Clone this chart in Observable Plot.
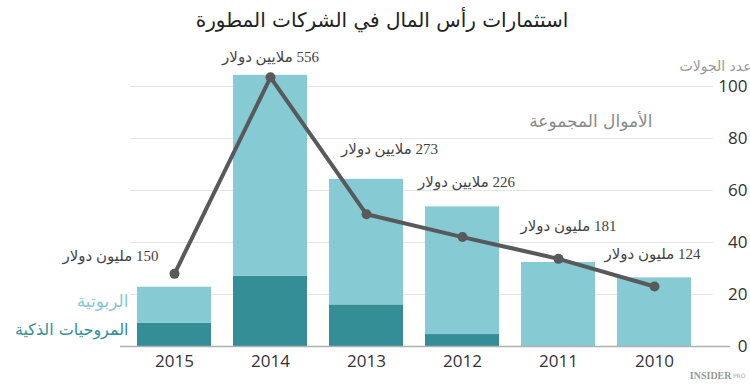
<!DOCTYPE html>
<html>
<head>
<meta charset="utf-8">
<script src="https://cdn.jsdelivr.net/npm/d3@7"></script>
<script src="https://cdn.jsdelivr.net/npm/@observablehq/plot@0.6"></script>
<style>
  body { margin: 0; background: #fff; }
  #title { height: 40px; line-height: 40px; text-align: center; font-family: "DejaVu Sans", sans-serif; font-size: 20px; color: #222; padding-left: 14px; direction: rtl; }
  #chart svg { display: block; }
</style>
</head>
<body>
<div id="title">استثمارات رأس المال في الشركات المطورة</div>
<div id="chart"></div>
<script>
const years = ["2015", "2014", "2013", "2012", "2011", "2010"];
const drones = [9, 27, 16, 4.6, 0, 0];
const robotics = [13.8, 77.3, 48.3, 49.1, 32.3, 26.4];
const funds = [150, 556, 273, 226, 181, 124];
const fundLabels = ["150 مليون دولار", "556 ملايين دولار", "273 ملايين دولار", "226 ملايين دولار", "181 مليون دولار", "124 مليون دولار"];
const yTicks = [0, 20, 40, 60, 80, 100];

const data = years.map((y, i) => ({year: y, drones: drones[i], robotics: robotics[i], funds: funds[i], label: fundLabels[i]}));
const fundScale = 5.37; // funds (millions $) drawn on the rounds axis

const lightTeal = "#86cad3";
const darkTeal = "#338f95";
const lineColor = "#58595b";

// label offsets (px) relative to each point
const labelOffsets = [[-64, -18], [0, -20], [23, -65], [4, -55], [10, -33], [-2, -32]];

const labelMarks = data.map((d, i) => Plot.text([d], {
  x: "year", y: v => v.funds / fundScale,
  text: v => "\u202B" + v.label + "\u202C",
  dx: labelOffsets[i][0], dy: labelOffsets[i][1],
  fontSize: 15, fill: "#444", fontFamily: "Liberation Serif, DejaVu Sans", textAnchor: "middle"
}));

const chart = Plot.plot({
  width: 750, height: 346,
  marginLeft: 130, marginRight: 37, marginTop: 46, marginBottom: 40,
  style: {fontFamily: "Open Sans, sans-serif", fontSize: "17px", color: "#333", background: "#fff"},
  x: {type: "band", domain: years, paddingInner: 0.225, paddingOuter: 0.124, align: 0.25, label: null},
  y: {domain: [0, 100], label: null},
  marks: [
    Plot.gridY({ticks: [20, 40, 60, 80, 100], stroke: "#e4e4e4", strokeOpacity: 1}),
    Plot.barY(data, {x: "year", y1: 0, y2: "drones", fill: darkTeal}),
    Plot.barY(data, {x: "year", y1: "drones", y2: d => d.drones + d.robotics, fill: lightTeal}),
    Plot.ruleY([0], {stroke: "#b0b0b0", strokeWidth: 1.5, insetLeft: -10, insetRight: -17}),
    Plot.axisY({anchor: "right", ticks: yTicks, tickSize: 0, tickPadding: 34, textAnchor: "end", fontSize: 17, fill: "#333"}),
    Plot.axisX({tickSize: 0, tickPadding: 8, fontSize: 17, fill: "#333"}),
    Plot.line(data, {x: "year", y: d => d.funds / fundScale, stroke: lineColor, strokeWidth: 4}),
    Plot.dot(data, {x: "year", y: d => d.funds / fundScale, r: 5, fill: lineColor, stroke: null}),
    ...labelMarks,
    Plot.text(["الربوتية"], {frameAnchor: "bottom-left", textAnchor: "end", dx: -2, dy: -40, fontSize: 17, fill: lightTeal, fontFamily: "DejaVu Sans"}),
    Plot.text(["المروحيات الذكية"], {frameAnchor: "bottom-left", textAnchor: "end", dx: -2, dy: -12, fontSize: 16, fill: darkTeal, fontFamily: "DejaVu Sans"}),
    Plot.text(["الأموال المجموعة"], {frameAnchor: "top-right", textAnchor: "end", dx: -61, dy: 28, fontSize: 17, fill: "#8a8a8a", fontFamily: "DejaVu Sans"}),
    Plot.text(["عدد الجولات"], {frameAnchor: "top-right", textAnchor: "end", dx: 38, dy: -25, fontSize: 14, fill: "#999", fontFamily: "DejaVu Sans"}),
    Plot.text(["INSIDER"], {frameAnchor: "bottom-right", textAnchor: "end", dx: 18, dy: 32, fontSize: 10, fontWeight: "bold", fill: "#999", fontFamily: "Liberation Serif"}),
    Plot.text(["PRO"], {frameAnchor: "bottom-right", textAnchor: "end", dx: 32, dy: 31, fontSize: 6, fill: "#aaa", fontFamily: "DejaVu Sans"})
  ]
});
document.getElementById("chart").appendChild(chart);
</script>
</body>
</html>
